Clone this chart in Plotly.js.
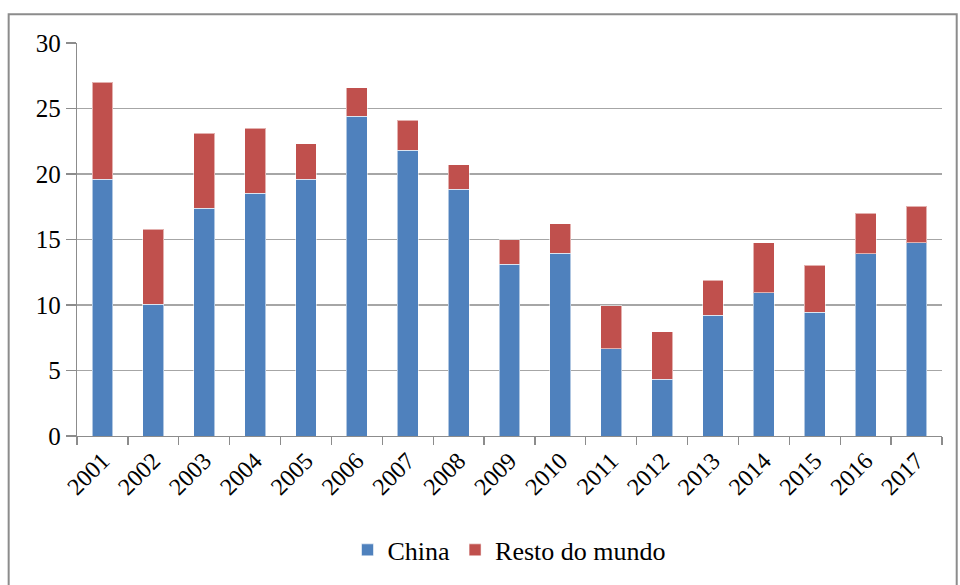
<!DOCTYPE html>
<html>
<head>
<meta charset="utf-8">
<script src="https://cdn.plot.ly/plotly-3.0.1.min.js"></script>
</head>
<body style="margin:0">
<div id="chart"></div>
<script>
// Years and values of each stacked series
const years = ['2001','2002','2003','2004','2005','2006','2007','2008','2009',
               '2010','2011','2012','2013','2014','2015','2016','2017'];
const china = [19.6, 10.05, 17.4, 18.55, 19.6, 24.4, 21.8, 18.85, 13.1,
               13.95, 6.65, 4.35, 9.2, 10.95, 9.45, 13.9, 14.75];
const restoDoMundo = [7.4, 5.75, 5.7, 4.95, 2.7, 2.2, 2.3, 1.85, 1.9,
                      2.25, 3.3, 3.6, 2.7, 3.8, 3.6, 3.1, 2.8];
const yTicks = [0, 5, 10, 15, 20, 25, 30];

// generic serif family (resolves to the Times-metric serif face)
const fam = 'serif';

const traces = [
  {
    type: 'bar', name: 'China', x: years, y: china,
    marker: { color: '#4F81BD', line: { color: 'rgba(255,255,255,0.55)', width: 1 } }
  },
  {
    type: 'bar', name: 'Resto do mundo', x: years, y: restoDoMundo,
    marker: { color: '#C0504D', line: { color: 'rgba(255,255,255,0.55)', width: 1 } }
  }
];

const layout = {
  width: 960, height: 585,
  margin: { l: 77, r: 18, t: 43, b: 147 },
  paper_bgcolor: '#ffffff', plot_bgcolor: '#ffffff',
  barmode: 'stack',
  bargap: 0.59,
  font: { family: fam, color: '#000', size: 24 },
  showlegend: true,
  legend: {
    orientation: 'h', x: 0.5, xanchor: 'center', y: -0.29, yanchor: 'middle',
    font: { family: fam, size: 26, color: '#000' },
    traceorder: 'normal'
  },
  // outer chart frame
  shapes: [{
    type: 'rect', xref: 'paper', yref: 'paper',
    x0: -0.079, x1: 1.017, y0: -0.6, y1: 1.073,
    line: { color: '#8c8c8c', width: 2 }, fillcolor: 'rgba(0,0,0,0)', layer: 'below'
  }],
  xaxis: {
    type: 'category',
    tickson: 'boundaries',
    ticks: 'outside', ticklen: 8, tickcolor: '#8c8c8c', tickwidth: 1.3,
    tickangle: -45,
    tickfont: { family: fam, size: 24, color: '#000' },
    showline: true, linecolor: '#8c8c8c', linewidth: 1.3,
    showgrid: false, zeroline: false
  },
  yaxis: {
    range: [0, 30],
    tickvals: yTicks,
    ticks: 'outside', ticklen: 10, tickcolor: '#8c8c8c', tickwidth: 1.3,
    tickfont: { family: fam, size: 25, color: '#000' },
    showline: true, linecolor: '#8c8c8c', linewidth: 1.3,
    showgrid: true, gridcolor: '#a6a6a6', gridwidth: 1.3,
    zeroline: false
  }
};

Plotly.newPlot('chart', traces, layout, { displayModeBar: false, staticPlot: true });
</script>
</body>
</html>
